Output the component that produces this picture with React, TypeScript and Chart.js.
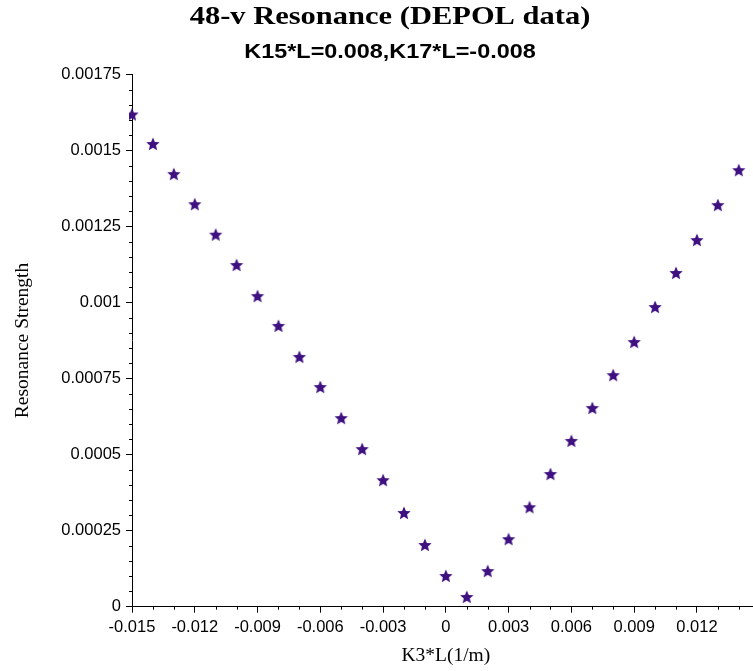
import { useEffect, useRef } from "react";
import { Chart, registerables } from "chart.js";

Chart.register(...registerables);

// K3*L values (1/m)
const K3L = [
  -0.015, -0.014, -0.013, -0.012, -0.011, -0.01, -0.009, -0.008, -0.007, -0.006,
  -0.005, -0.004, -0.003, -0.002, -0.001, 0, 0.001, 0.002, 0.003, 0.004,
  0.005, 0.006, 0.007, 0.008, 0.009, 0.01, 0.011, 0.012, 0.013, 0.014,
];

// Resonance strength
const STRENGTH = [
  0.001618, 0.001521, 0.001422, 0.001323, 0.001223, 0.001123, 0.001021, 0.000923, 0.000821, 0.000722,
  0.00062, 0.000518, 0.000416, 0.000308, 0.000203, 0.000101, 0.000032, 0.000117, 0.000222, 0.000327,
  0.000436, 0.000545, 0.000653, 0.000761, 0.00087, 0.000985, 0.001097, 0.001205, 0.00132, 0.001435,
];

const X_MAJOR_TICKS = [-0.015, -0.012, -0.009, -0.006, -0.003, 0, 0.003, 0.006, 0.009, 0.012];
const X_AXIS_MAX = 0.015;
const X_MINOR_STEP = 0.001;
const Y_MAJOR_TICKS = [0, 0.00025, 0.0005, 0.00075, 0.001, 0.00125, 0.0015, 0.00175];
const Y_MINOR_STEP = 0.00005;

const TITLE = "48-v Resonance (DEPOL data)";
const SUBTITLE = "K15*L=0.008,K17*L=-0.008";
const X_TITLE = "K3*L(1/m)";
const Y_TITLE = "Resonance Strength";

const MARKER_COLOR = "#3f1180";
const SERIF = "'Liberation Serif', 'Times New Roman', Times, serif";
const SANS = "'Liberation Sans', Arial, Helvetica, sans-serif";

type T = { value: number; isMajor: boolean };

function buildTicks(majors: number[], step: number, max: number): T[] {
  const out: T[] = [];
  const last = majors[majors.length - 1];
  for (let i = 0; i < majors.length; i++) {
    out.push({ value: majors[i], isMajor: true });
    const next = i < majors.length - 1 ? majors[i + 1] : max;
    const n = Math.round((next - majors[i]) / step);
    const limit = i < majors.length - 1 ? n - 1 : n;
    for (let k = 1; k <= limit; k++) {
      const v = majors[i] + k * step;
      if (i === majors.length - 1 && v > max + 1e-12) break;
      out.push({ value: Number(v.toFixed(8)), isMajor: false });
    }
  }
  void last;
  return out;
}

function fmt(v: number): string {
  const r = Number(v.toFixed(6));
  return r === 0 ? "0" : String(r);
}

function makeStar(color: string): HTMLCanvasElement {
  const size = 16;
  const c = document.createElement("canvas");
  c.width = size;
  c.height = size;
  const ctx = c.getContext("2d")!;
  const cx = size / 2;
  const cy = size / 2 + 0.5;
  const R = 7;
  const r = R * 0.46;
  ctx.beginPath();
  for (let i = 0; i < 10; i++) {
    const ang = -Math.PI / 2 + (i * Math.PI) / 5;
    const rad = i % 2 === 0 ? R : r;
    const px = cx + rad * Math.cos(ang);
    const py = cy + rad * Math.sin(ang);
    if (i === 0) ctx.moveTo(px, py);
    else ctx.lineTo(px, py);
  }
  ctx.closePath();
  ctx.fillStyle = color;
  ctx.fill();
  return c;
}

const minorTicksPlugin = {
  id: "minorTicks",
  afterDraw(chart: any) {
    const ctx = chart.ctx;
    const xs = chart.scales.x;
    const ys = chart.scales.y;
    ctx.save();
    ctx.strokeStyle = "#000";
    ctx.lineWidth = 1;
    ctx.beginPath();
    xs.ticks.forEach((t: any) => {
      if (!t.isMajor) {
        const px = Math.round(xs.getPixelForValue(t.value)) + 0.5;
        ctx.moveTo(px, xs.top);
        ctx.lineTo(px, xs.top + 3);
      }
    });
    ys.ticks.forEach((t: any) => {
      if (!t.isMajor) {
        const py = Math.round(ys.getPixelForValue(t.value)) + 0.5;
        ctx.moveTo(ys.right, py);
        ctx.lineTo(ys.right - 3, py);
      }
    });
    ctx.stroke();
    ctx.restore();
  },
};

// Title and subtitle, drawn slightly widened like the reference rendering
const titlesPlugin = {
  id: "widenedTitles",
  afterDraw(chart: any) {
    const ctx = chart.ctx;
    const cx = chart.width / 2;
    ctx.save();
    ctx.fillStyle = "#000";
    ctx.textAlign = "center";
    ctx.textBaseline = "alphabetic";
    ctx.font = `bold 25px ${SERIF}`;
    ctx.translate(cx, 23.5);
    ctx.scale(1.22, 1);
    ctx.fillText(TITLE, 0, 0);
    ctx.restore();

    ctx.save();
    ctx.fillStyle = "#000";
    ctx.textAlign = "center";
    ctx.textBaseline = "alphabetic";
    ctx.font = `bold 19.5px ${SANS}`;
    ctx.translate(cx, 58.3);
    ctx.scale(1.2, 1);
    ctx.fillText(SUBTITLE, 0, 0);
    ctx.restore();
  },
};

export default function App() {
  const ref = useRef<HTMLCanvasElement | null>(null);

  useEffect(() => {
    document.body.style.margin = "0";
    const canvas = ref.current;
    if (!canvas) return;
    const star = makeStar(MARKER_COLOR);
    const xTicks = buildTicks(X_MAJOR_TICKS, X_MINOR_STEP, X_AXIS_MAX);
    const yTicks = buildTicks(Y_MAJOR_TICKS, Y_MINOR_STEP, Y_MAJOR_TICKS[Y_MAJOR_TICKS.length - 1]);

    const chart = new Chart(canvas, {
      type: "scatter",
      data: {
        datasets: [
          {
            label: "Resonance Strength",
            data: K3L.map((x, i) => ({ x, y: STRENGTH[i] })),
            pointStyle: star as any,
            pointRadius: 6,
            backgroundColor: MARKER_COLOR,
            borderColor: MARKER_COLOR,
            clip: { left: 3, top: 10, right: 10, bottom: 10 } as any,
          },
        ],
      },
      options: {
        animation: false,
        responsive: false,
        layout: { padding: { top: 74.3, left: 0, right: 0, bottom: 0 } },
        plugins: {
          legend: { display: false },
          tooltip: { enabled: false },
          title: { display: false },
          subtitle: { display: false },
        },
        scales: {
          x: {
            type: "linear",
            min: X_MAJOR_TICKS[0],
            max: X_AXIS_MAX,
            afterBuildTicks: (scale: any) => {
              scale.ticks = xTicks.map((t) => ({ ...t }));
            },
            afterFit: (scale: any) => {
              scale.height = 64.3;
              scale.paddingRight = 20.3;
            },
            ticks: {
              autoSkip: false,
              maxRotation: 0,
              minRotation: 0,
              color: "#000",
              padding: 5,
              font: { family: SANS, size: 16.5 },
              callback: (value: any, index: number, ticks: any[]) =>
                ticks[index] && ticks[index].isMajor ? fmt(Number(value)) : "",
            },
            grid: {
              drawOnChartArea: false,
              drawTicks: true,
              tickLength: 6,
              tickColor: (ctx: any) => (ctx.tick && ctx.tick.isMajor ? "#000" : "rgba(0,0,0,0)"),
            },
            border: { display: true, color: "#000", width: 1 },
            title: {
              display: true,
              text: X_TITLE,
              color: "#000",
              font: { family: SERIF, size: 19.5, lineHeight: 1.2 },
              padding: { top: 0, bottom: 3 },
            },
          },
          y: {
            type: "linear",
            min: Y_MAJOR_TICKS[0],
            max: Y_MAJOR_TICKS[Y_MAJOR_TICKS.length - 1],
            afterBuildTicks: (scale: any) => {
              scale.ticks = yTicks.map((t) => ({ ...t }));
            },
            afterFit: (scale: any) => {
              scale.width = 132;
            },
            ticks: {
              autoSkip: false,
              color: "#000",
              padding: 5,
              font: { family: SANS, size: 16.5 },
              callback: (value: any, index: number, ticks: any[]) =>
                ticks[index] && ticks[index].isMajor ? fmt(Number(value)) : "",
            },
            grid: {
              drawOnChartArea: false,
              drawTicks: true,
              tickLength: 6,
              tickColor: (ctx: any) => (ctx.tick && ctx.tick.isMajor ? "#000" : "rgba(0,0,0,0)"),
            },
            border: { display: true, color: "#000", width: 1 },
            title: {
              display: true,
              text: Y_TITLE,
              color: "#000",
              font: { family: SERIF, size: 19.5, lineHeight: 1.2 },
              padding: { top: 11, bottom: 0 },
            },
          },
        },
      },
      plugins: [minorTicksPlugin, titlesPlugin],
    });

    return () => chart.destroy();
  }, []);

  return (
    <div style={{ width: 753, height: 671, overflow: "hidden", background: "#fff" }}>
      <canvas ref={ref} width={780} height={671} style={{ display: "block" }} />
    </div>
  );
}
